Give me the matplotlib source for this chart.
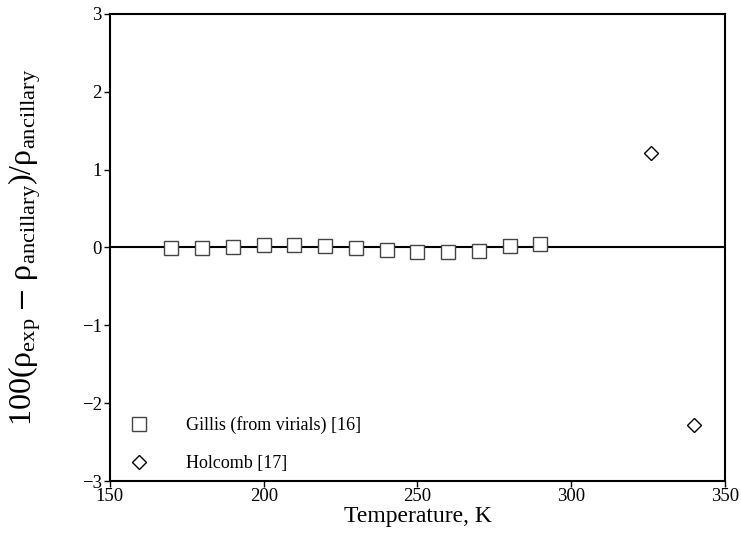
import numpy as np
import matplotlib
matplotlib.use('Agg')
import matplotlib.pyplot as plt

plt.rcParams['font.family'] = ['Liberation Serif', 'DejaVu Serif']
plt.rcParams['mathtext.fontset'] = 'stix'

# Gillis (from virials) [16]
gillis_T = [170, 180, 190, 200, 210, 220, 230, 240, 250, 260, 270, 280, 290]
gillis_dev = [-0.01, -0.01, 0.01, 0.03, 0.03, 0.02, -0.01, -0.03, -0.055, -0.06, -0.04, 0.02, 0.04]

# Holcomb [17]
holcomb_T = [326, 340]
holcomb_dev = [1.22, -2.28]

fig = plt.figure(figsize=(7.41, 5.44), dpi=100)
ax = fig.add_axes([0.1484, 0.1158, 0.8300, 0.8585])

ax.axhline(0, color='black', lw=1.5, zorder=1)
ax.plot(gillis_T, gillis_dev, 's', mfc='white', mec='#444444', mew=1.0, ms=9.5,
        label='Gillis (from virials) [16]', zorder=2)
ax.plot(holcomb_T, holcomb_dev, 'D', mfc='white', mec='black', mew=1.0, ms=7.5,
        label='Holcomb [17]', zorder=2)

ax.set_xlim(150, 350)
ax.set_ylim(-3, 3)
ax.set_xticks([150, 200, 250, 300, 350])
ax.set_yticks([-3, -2, -1, 0, 1, 2, 3])
ax.tick_params(direction='out', length=4, width=1, labelsize=13.5, pad=2)
ax.tick_params(axis='x', pad=1)
for s in ax.spines.values():
    s.set_linewidth(1.5)

ax.set_xlabel('Temperature, K', fontsize=17, labelpad=1)
ax.set_ylabel(r'100($\mathregular{\rho_{exp}}$ $-$ $\mathregular{\rho_{ancillary}}$)/$\mathregular{\rho_{ancillary}}$',
              fontsize=23, labelpad=28)

ax.legend(loc='lower left', bbox_to_anchor=(-0.005, -0.012), frameon=False, fontsize=13,
          handletextpad=1.6, labelspacing=1.15, borderaxespad=0.4)

fig.savefig('out.png', dpi=100)
